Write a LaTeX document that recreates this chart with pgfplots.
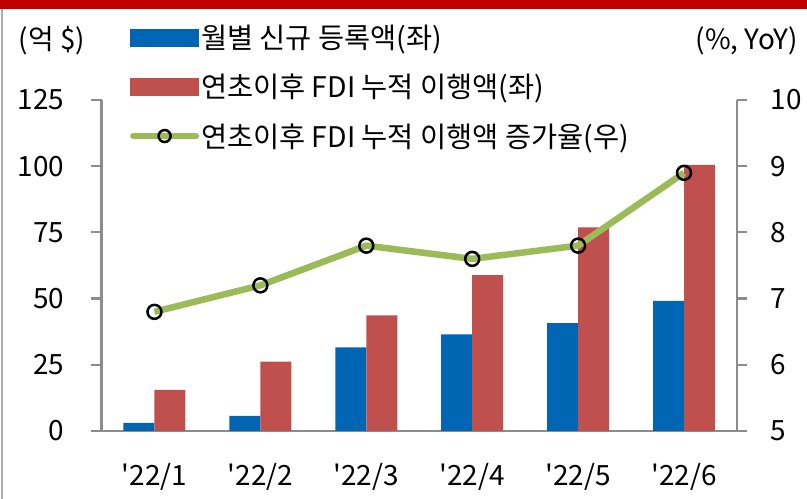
\documentclass[border=0pt]{standalone}
\usepackage{fontspec}
\setmainfont{Noto Sans CJK KR}
\usepackage{pgfplots}
\pgfplotsset{compat=1.18}
\definecolor{cblue}{HTML}{0066B3}
\definecolor{cred}{HTML}{C0504D}
\definecolor{cgreen}{HTML}{9BBB59}
\definecolor{ctop}{HTML}{C00000}
\definecolor{caxis}{HTML}{8C8C8C}
\begin{document}
\begin{tikzpicture}
\useasboundingbox (0,0) rectangle (807bp,499bp);
\fill[ctop] (0,490bp) rectangle (807bp,499bp);
\draw[caxis!70, line width=1.5bp] (2bp,0bp) -- (2bp,490bp);
\pgfplotsset{
  every axis/.append style={
    scale only axis, width=635.5bp, height=331bp,
    at={(101.5bp,68bp)}, anchor=south west,
    xmin=-0.5, xmax=5.5,
    axis line style={caxis, line width=2.2bp},
    tick style={caxis, line width=2.2bp},
    tick align=outside,
    major tick length=10bp,
    /pgf/number format/assume math mode=true,
    tick label style={font=\fontsize{28}{32}\selectfont},
  }
}
\begin{axis}[
  ymin=0, ymax=125, ytick={0,25,50,75,100,125},
  axis x line*=bottom, axis y line*=left,
  xtick={0,...,5},
  xticklabels={\textquotesingle22/1,\textquotesingle22/2,\textquotesingle22/3,\textquotesingle22/4,\textquotesingle22/5,\textquotesingle22/6},
  x tick style={draw=none},
  minor xtick={-0.5,0.5,...,5.5},
  minor x tick style={caxis, line width=2.2bp},
  minor tick length=10bp,
  xticklabel style={yshift=-19bp},
  yticklabel style={xshift=-24bp},
  ybar=0pt, bar width=31bp,
  legend style={at={(0.04,1.238)}, anchor=north west, draw=none, fill=none,
    font=\fontsize{28.5}{32}\selectfont, row sep=20bp,
    /tikz/every even column/.append style={column sep=0bp}},
  legend cell align=left,
]
\addplot[fill=cblue, draw=none,
  legend image code/.code={\fill[cblue] (0bp,-9bp) rectangle (69bp,9bp);}]
  coordinates {(0,3.1) (1,5.7) (2,31.6) (3,36.5) (4,40.7) (5,49.1)};
\addlegendentry{월별 신규 등록액(좌)}
\addplot[fill=cred, draw=none,
  legend image code/.code={\fill[cred] (0bp,-9bp) rectangle (69bp,9bp);}]
  coordinates {(0,15.5) (1,26.2) (2,43.7) (3,58.9) (4,76.9) (5,100.5)};
\addlegendentry{연초이후 FDI 누적 이행액(좌)}
\addlegendimage{legend image code/.code={
  \draw[cgreen, line width=6bp, line cap=round] (3bp,0bp) -- (66bp,0bp);
  \draw[black, line width=2.5bp] (34.5bp,0bp) circle (6bp);}}
\addlegendentry{연초이후 FDI 누적 이행액 증가율(우)}
\end{axis}
\begin{axis}[
  ymin=5, ymax=10, ytick={5,...,10},
  axis x line=none, axis y line*=right,
  yticklabel style={xshift=20bp},
]
\addplot[cgreen, line width=6.5bp, line join=round,
  mark=o, mark size=7bp, mark options={draw=black, line width=2.5bp, fill=none}]
  coordinates {(0,6.8) (1,7.2) (2,7.8) (3,7.6) (4,7.8) (5,8.9)};
\end{axis}
\node[font=\fontsize{28}{32}\selectfont] at (52bp,458bp) {(억 \$)};
\node[font=\fontsize{28}{32}\selectfont] at (747bp,458bp) {(\%, YoY)};
\end{tikzpicture}
\end{document}
